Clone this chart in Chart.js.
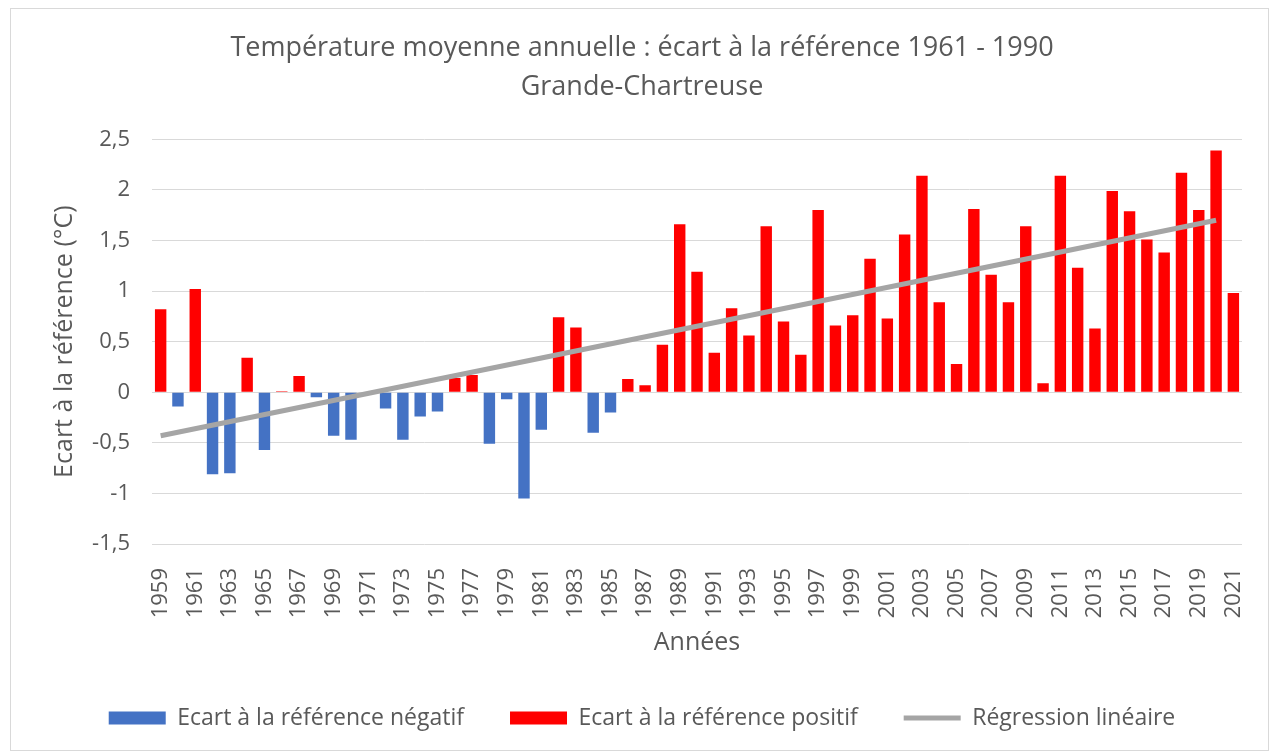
<!DOCTYPE html>
<html lang="fr">
<head>
<meta charset="utf-8">
<title>Température moyenne annuelle - Grande-Chartreuse</title>
<script src="https://cdn.jsdelivr.net/npm/chart.js@4.4.1/dist/chart.umd.min.js"></script>
<style>
  html, body { margin: 0; padding: 0; background: #fff; }
  #wrap { width: 1276px; height: 756px; position: relative; }
</style>
</head>
<body>
<div id="wrap"><canvas id="chart" width="1276" height="756"></canvas></div>
<script>
// années (axe X)
const annees = [
  '1959','1960','1961','1962','1963','1964','1965','1966','1967','1968',
  '1969','1970','1971','1972','1973','1974','1975','1976','1977','1978',
  '1979','1980','1981','1982','1983','1984','1985','1986','1987','1988',
  '1989','1990','1991','1992','1993','1994','1995','1996','1997','1998',
  '1999','2000','2001','2002','2003','2004','2005','2006','2007','2008',
  '2009','2010','2011','2012','2013','2014','2015','2016','2017','2018',
  '2019','2020','2021'
];

// écart à la référence 1961-1990 (°C)
const ecart = [
   0.82, -0.14,  1.02, -0.81, -0.80,  0.34, -0.57,  0.01,  0.16, -0.05,
  -0.43, -0.47,  0.00, -0.16, -0.47, -0.24, -0.19,  0.14,  0.17, -0.51,
  -0.07, -1.05, -0.37,  0.74,  0.64, -0.40, -0.20,  0.13,  0.07,  0.47,
   1.66,  1.19,  0.39,  0.83,  0.56,  1.64,  0.70,  0.37,  1.80,  0.66,
   0.76,  1.32,  0.73,  1.56,  2.14,  0.89,  0.28,  1.81,  1.16,  0.89,
   1.64,  0.09,  2.14,  1.23,  0.63,  1.99,  1.79,  1.51,  1.38,  2.17,
   1.80,  2.39,  0.98
];

// droite de régression (extrémités)
const regression = [
  { x: '1959', y: -0.43 },
  { x: '2020', y: 1.70 }
];

// graduations de l'axe Y
const yMin = -1.5;
const yMax = 2.5;
const yPas = 0.5;

const ecartNegatif = ecart.map(v => (v <= 0 ? v : null));
const ecartPositif = ecart.map(v => (v > 0 ? v : null));

const GRIS_TEXTE = '#595959';
const POLICE = "'Open Sans', 'Noto Sans', sans-serif";

// cadre gris autour du graphique
const cadrePlugin = {
  id: 'cadre',
  beforeDraw(chart) {
    const ctx = chart.ctx;
    ctx.save();
    ctx.fillStyle = '#ffffff';
    ctx.fillRect(0, 0, chart.width, chart.height);
    ctx.strokeStyle = '#d9d9d9';
    ctx.lineWidth = 1;
    ctx.strokeRect(10.5, 8.5, 1258, 742);
    ctx.restore();
  }
};

new Chart(document.getElementById('chart'), {
  type: 'bar',
  data: {
    labels: annees,
    datasets: [
      {
        label: 'Ecart à la référence négatif',
        data: ecartNegatif,
        backgroundColor: '#4472C4',
        borderWidth: 0,
        pointStyle: 'rect',
        grouped: false,
        barPercentage: 0.66,
        categoryPercentage: 1,
        order: 1
      },
      {
        label: 'Ecart à la référence positif',
        data: ecartPositif,
        backgroundColor: '#FF0000',
        borderWidth: 0,
        pointStyle: 'rect',
        grouped: false,
        barPercentage: 0.66,
        categoryPercentage: 1,
        order: 1
      },
      {
        type: 'line',
        label: 'Régression linéaire',
        data: regression,
        borderColor: '#A5A5A5',
        backgroundColor: '#A5A5A5',
        borderWidth: 5,
        pointRadius: 0,
        pointStyle: 'line',
        spanGaps: true,
        order: 0
      }
    ]
  },
  options: {
    responsive: false,
    animation: false,
    layout: { padding: { top: 10, left: 18, right: 10, bottom: 16.5 } },
    plugins: {
      title: {
        display: true,
        text: ['Température moyenne annuelle : écart à la référence 1961 - 1990', 'Grande-Chartreuse'],
        color: GRIS_TEXTE,
        font: { family: POLICE, size: 27, weight: 'normal', lineHeight: 1.45 },
        padding: { top: 19, bottom: 32 }
      },
      legend: {
        position: 'bottom',
        labels: {
          usePointStyle: true,
          pointStyleWidth: 57,
          boxHeight: 13,
          padding: 46,
          color: GRIS_TEXTE,
          font: { family: POLICE, size: 23 },
          sort: (a, b) => a.datasetIndex - b.datasetIndex
        }
      },
      tooltip: { enabled: false }
    },
    scales: {
      x: {
        grid: { display: false },
        border: { display: false },
        ticks: {
          autoSkip: false,
          maxRotation: 90,
          minRotation: 90,
          padding: 16,
          color: GRIS_TEXTE,
          font: { family: POLICE, size: 22 },
          callback: (v, i) => (i % 2 === 0 ? annees[i] : '')
        },
        title: {
          display: true,
          text: 'Années',
          color: GRIS_TEXTE,
          font: { family: POLICE, size: 25 },
          padding: { top: 0, bottom: 3 }
        },
        afterFit(scale) { scale.height = 116.5; }
      },
      y: {
        min: yMin,
        max: yMax,
        grid: { color: '#d9d9d9', drawTicks: false },
        border: { display: false },
        ticks: {
          stepSize: yPas,
          padding: 22,
          color: GRIS_TEXTE,
          font: { family: POLICE, size: 22 },
          callback: v => String(v).replace('.', ',')
        },
        title: {
          display: true,
          text: 'Ecart à la référence (°C)',
          color: GRIS_TEXTE,
          font: { family: POLICE, size: 25 },
          padding: { top: 32, bottom: 0 }
        },
        afterFit(scale) { scale.width = 134; }
      },
      // axe vide à droite : garde la zone de tracé à la même place que l'original
      marge: {
        position: 'right',
        grid: { display: false },
        border: { display: false },
        ticks: { display: false },
        afterFit(scale) { scale.width = 18; }
      }
    }
  },
  plugins: [cadrePlugin]
});
</script>
</body>
</html>
